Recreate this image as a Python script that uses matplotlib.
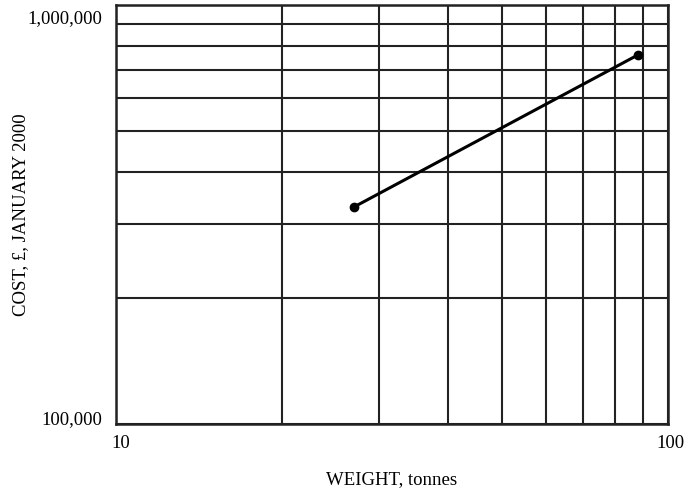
import matplotlib
matplotlib.use("Agg")
import matplotlib.pyplot as plt
from matplotlib.ticker import FixedLocator, NullFormatter, FixedFormatter
from matplotlib.transforms import ScaledTranslation

weight_t = [27, 88]
cost_gbp = [330000, 760000]
x_major = [10, 100]
x_major_labels = ["10", "100"]
y_major = [100000, 1000000]
y_major_labels = ["100,000", "1,000,000"]
x_minor = [20, 30, 40, 50, 60, 70, 80, 90]
y_minor = [200000, 300000, 400000, 500000, 600000, 700000, 800000, 900000]

plt.rcParams['font.family'] = ['Liberation Serif', 'DejaVu Serif']

fig = plt.figure(figsize=(6.86, 4.95), dpi=100)
ax = fig.add_axes([0.169, 0.1434, 0.805, 0.846])
ax.set_xscale('log')
ax.set_yscale('log')
ax.set_xlim(10, 100)
ax.set_ylim(100000, 1000000)

ax.xaxis.set_major_locator(FixedLocator(x_major))
ax.xaxis.set_major_formatter(FixedFormatter(x_major_labels))
ax.yaxis.set_major_locator(FixedLocator(y_major))
ax.yaxis.set_major_formatter(FixedFormatter(y_major_labels))
ax.xaxis.set_minor_locator(FixedLocator(x_minor))
ax.yaxis.set_minor_locator(FixedLocator(y_minor))
ax.xaxis.set_minor_formatter(NullFormatter())
ax.yaxis.set_minor_formatter(NullFormatter())

ax.grid(True, which='both', color='#222222', linewidth=1.5)
ax.tick_params(which='both', length=0, labelsize=13.5)
ax.tick_params(axis='y', pad=10)
ax.tick_params(axis='x', pad=8)
for s in ax.spines.values():
    s.set_color('#222222')
    s.set_linewidth(1.8)

ax.plot(weight_t, cost_gbp, color='black', linewidth=2.2, marker='o', markersize=6, zorder=5)

ax.set_xlabel('WEIGHT, tonnes', fontsize=13.5, va='center')
ax.set_ylabel('COST, £, JANUARY 2000', fontsize=13.5, va='center')
ax.xaxis.set_label_coords(0.5, (424 - 480) / 419)
ax.yaxis.set_label_coords((21 - 116) / 552, 0.5)

fig.canvas.draw()
ylabs = ax.yaxis.get_majorticklabels()
ylabs[0].set_transform(ylabs[0].get_transform() + ScaledTranslation(0, 6/100, fig.dpi_scale_trans))
ylabs[1].set_transform(ylabs[1].get_transform() + ScaledTranslation(0, -11/100, fig.dpi_scale_trans))
xlabs = ax.xaxis.get_majorticklabels()
xlabs[0].set_transform(xlabs[0].get_transform() + ScaledTranslation(5/100, 0, fig.dpi_scale_trans))
xlabs[1].set_transform(xlabs[1].get_transform() + ScaledTranslation(2/100, 0, fig.dpi_scale_trans))

fig.savefig('out.png', dpi=100)
